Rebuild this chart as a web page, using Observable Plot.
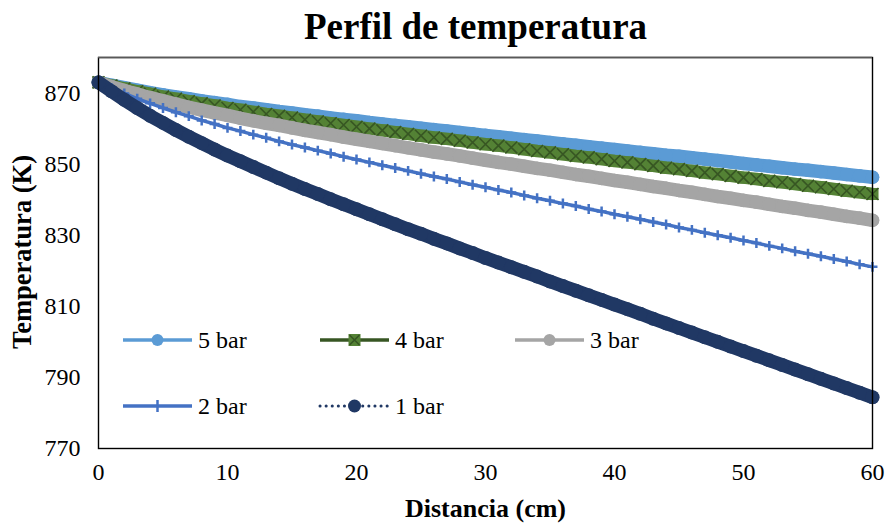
<!DOCTYPE html>
<html><head><meta charset="utf-8">
<script src="https://cdn.jsdelivr.net/npm/d3@7"></script>
<script src="https://cdn.jsdelivr.net/npm/@observablehq/plot@0.6"></script>
<style>
body{margin:0;background:#fff;}
#chart{width:888px;height:524px;}
#chart svg, #chart svg text{font-family:'Times New Roman','Liberation Serif',serif !important;}
</style></head><body><div id="chart"></div>
<script>
const title = "Perfil de temperatura";
const xTitle = "Distancia (cm)";
const yTitle = "Temperatura (K)";
const xTicks = [0,10,20,30,40,50,60];
const yTicks = [770,790,810,830,850,870];
const seriesNames = ["5 bar","4 bar","3 bar","2 bar","1 bar"];
const distancia = [0,1,2,3,4,5,6,7,8,9,10,11,12,13,14,15,16,17,18,19,20,21,22,23,24,25,26,27,28,29,30,31,32,33,34,35,36,37,38,39,40,41,42,43,44,45,46,47,48,49,50,51,52,53,54,55,56,57,58,59,60];
const t5bar = [873.0,872.2,871.5,870.8,870.1,869.5,868.9,868.4,867.8,867.3,866.8,866.2,865.8,865.3,864.8,864.4,863.9,863.5,863.0,862.6,862.2,861.7,861.3,860.9,860.5,860.1,859.7,859.3,858.9,858.5,858.1,857.7,857.3,856.9,856.5,856.1,855.7,855.3,854.9,854.5,854.1,853.7,853.3,852.9,852.5,852.2,851.8,851.4,851.0,850.6,850.2,849.8,849.4,849.0,848.6,848.3,847.9,847.5,847.1,846.7,846.3];
const t4bar = [873.0,872.1,871.3,870.5,869.8,869.0,868.4,867.7,867.1,866.5,865.8,865.3,864.7,864.1,863.6,863.1,862.5,862.0,861.5,861.0,860.5,860.0,859.5,859.0,858.5,858.0,857.5,857.1,856.6,856.1,855.6,855.2,854.7,854.2,853.7,853.3,852.8,852.3,851.9,851.4,850.9,850.5,850.0,849.5,849.0,848.6,848.1,847.6,847.2,846.7,846.2,845.8,845.3,844.9,844.4,843.9,843.5,843.0,842.5,842.1,841.6];
const t3bar = [873.0,871.8,870.7,869.7,868.7,867.8,866.9,866.0,865.2,864.4,863.7,862.9,862.2,861.5,860.9,860.2,859.5,858.9,858.3,857.6,857.0,856.4,855.8,855.2,854.6,854.0,853.4,852.9,852.3,851.7,851.1,850.5,850.0,849.4,848.8,848.3,847.7,847.1,846.6,846.0,845.4,844.9,844.3,843.7,843.2,842.6,842.1,841.5,840.9,840.4,839.8,839.3,838.7,838.1,837.6,837.0,836.5,835.9,835.3,834.8,834.2];
const t2bar = [873.0,871.4,869.9,868.4,867.1,865.8,864.6,863.5,862.3,861.3,860.2,859.3,858.3,857.4,856.4,855.5,854.7,853.8,853.0,852.1,851.3,850.5,849.7,848.9,848.1,847.3,846.5,845.8,845.0,844.2,843.5,842.7,842.0,841.2,840.4,839.7,838.9,838.2,837.4,836.7,835.9,835.2,834.5,833.7,833.0,832.2,831.5,830.7,830.0,829.3,828.5,827.8,827.0,826.3,825.5,824.8,824.1,823.3,822.6,821.8,821.1];
const t1bar = [873.0,870.5,868.1,865.8,863.6,861.6,859.6,857.7,855.9,854.1,852.4,850.8,849.2,847.6,846.0,844.5,843.0,841.6,840.1,838.7,837.3,835.9,834.5,833.1,831.7,830.4,829.0,827.7,826.3,825.0,823.6,822.3,821.0,819.7,818.4,817.0,815.7,814.4,813.1,811.8,810.5,809.2,807.9,806.5,805.2,803.9,802.6,801.3,800.0,798.7,797.4,796.1,794.8,793.5,792.2,790.9,789.6,788.3,787.0,785.7,784.4];

const C5 = "#5B9BD5", C4 = "#548235", C4d = "#375623", C3 = "#A5A5A5", C2 = "#4472C4", C1 = "#203864";
const serif = "'Times New Roman','Liberation Serif',serif";

const mk = (arr, s) => distancia.map((x, i) => ({x, t: arr[i], s}));
const d5 = mk(t5bar, seriesNames[0]);
const d4 = mk(t4bar, seriesNames[1]);
const d3s = mk(t3bar, seriesNames[2]);
const d2 = mk(t2bar, seriesNames[3]);
const d1 = mk(t1bar, seriesNames[4]);

const chart = Plot.plot({
  width: 888, height: 524,
  marginLeft: 98, marginRight: 16, marginTop: 57, marginBottom: 76,
  style: {fontFamily: serif, fontSize: "24px", color: "#000", background: "#fff"},
  x: {domain: [0, 60]},
  y: {domain: [770, 880]},
  marks: [
    Plot.axisX({ticks: xTicks, tickSize: 0, tickPadding: 14, label: null, fontSize: 24, fontFamily: serif}),
    Plot.axisY({ticks: yTicks, tickSize: 0, tickPadding: 18, label: null, fontSize: 24, fontFamily: serif}),
    // 5 bar
    Plot.line(d5, {x: "x", y: "t", stroke: C5, strokeWidth: 13.5, strokeLinecap: "round"}),
    Plot.dot(d5, {x: "x", y: "t", r: 6.8, fill: C5}),
    // 4 bar
    Plot.line(d4, {x: "x", y: "t", stroke: C4, strokeWidth: 12.5, strokeLinecap: "butt"}),
    Plot.dot(d4, {x: "x", y: "t", symbol: "square", r: 6.8, fill: C4}),
    Plot.dot(d4, {x: "x", y: "t", symbol: "times", r: 5.5, stroke: C4d, strokeWidth: 1.6}),
    // 3 bar
    Plot.line(d3s, {x: "x", y: "t", stroke: C3, strokeWidth: 13.5, strokeLinecap: "round"}),
    Plot.dot(d3s, {x: "x", y: "t", r: 6.8, fill: C3}),
    // 2 bar
    Plot.line(d2, {x: "x", y: "t", stroke: C2, strokeWidth: 3.5}),
    Plot.dot(d2, {x: "x", y: "t", symbol: "plus", r: 3.3, stroke: C2, strokeWidth: 2.5}),
    // 1 bar
    Plot.line(d1, {x: "x", y: "t", stroke: C1, strokeWidth: 13.5, strokeLinecap: "round"}),
    Plot.dot(d1, {x: "x", y: "t", r: 7, fill: C1}),
    Plot.frame({stroke: "#000", strokeWidth: 1.4}),
    Plot.ruleY([880], {stroke: "#595959", strokeWidth: 1.6}),
    Plot.text([title], {frameAnchor: "top", textAnchor: "middle", lineAnchor: "middle", dx: -10, dy: -30, fontSize: 37, fontWeight: "bold", fontFamily: serif, fill: "#000"}),
    Plot.text([xTitle], {frameAnchor: "bottom", textAnchor: "middle", lineAnchor: "middle", dx: 0, dy: 60, fontSize: 26, fontWeight: "bold", fontFamily: serif, fill: "#000"}),
    Plot.text([yTitle], {frameAnchor: "left", textAnchor: "middle", lineAnchor: "middle", dx: -76, dy: -1, rotate: -90, fontSize: 26.5, fontWeight: "bold", fontFamily: serif, fill: "#000"})
  ]
});
document.getElementById("chart").appendChild(chart);

// Legend (inside plot area)
const legendItems = [
  {name: seriesNames[0], col: 0, row: 0},
  {name: seriesNames[1], col: 1, row: 0},
  {name: seriesNames[2], col: 2, row: 0},
  {name: seriesNames[3], col: 0, row: 1},
  {name: seriesNames[4], col: 1, row: 1}
];
const colX = [123, 320, 515], rowY = [340, 406], sampleW = 69;
const svg = d3.select(chart.tagName.toLowerCase() === "svg" ? chart : chart.querySelector("svg"));
const lg = svg.append("g").attr("text-anchor", "start");
legendItems.forEach(it => {
  const x0 = colX[it.col], y0 = rowY[it.row], xm = x0 + sampleW / 2;
  const g = lg.append("g");
  const n = it.name;
  if (n === "5 bar") {
    g.append("line").attr("x1", x0).attr("x2", x0 + sampleW).attr("y1", y0).attr("y2", y0).attr("stroke", C5).attr("stroke-width", 3.5);
    g.append("circle").attr("cx", xm).attr("cy", y0).attr("r", 6).attr("fill", C5);
  } else if (n === "4 bar") {
    g.append("line").attr("x1", x0).attr("x2", x0 + sampleW).attr("y1", y0).attr("y2", y0).attr("stroke", C4d).attr("stroke-width", 3.5);
    g.append("rect").attr("x", xm - 6).attr("y", y0 - 6).attr("width", 12).attr("height", 12).attr("fill", C4);
    g.append("path").attr("d", `M${xm-5},${y0-5}L${xm+5},${y0+5}M${xm-5},${y0+5}L${xm+5},${y0-5}`).attr("stroke", C4d).attr("stroke-width", 1.6);
  } else if (n === "3 bar") {
    g.append("line").attr("x1", x0).attr("x2", x0 + sampleW).attr("y1", y0).attr("y2", y0).attr("stroke", C3).attr("stroke-width", 3.5);
    g.append("circle").attr("cx", xm).attr("cy", y0).attr("r", 6).attr("fill", C3);
  } else if (n === "2 bar") {
    g.append("line").attr("x1", x0).attr("x2", x0 + sampleW).attr("y1", y0).attr("y2", y0).attr("stroke", C2).attr("stroke-width", 3.5);
    g.append("line").attr("x1", xm).attr("x2", xm).attr("y1", y0 - 6).attr("y2", y0 + 6).attr("stroke", C2).attr("stroke-width", 2.5);
  } else {
    g.append("line").attr("x1", x0).attr("x2", x0 + sampleW).attr("y1", y0).attr("y2", y0).attr("stroke", C1).attr("stroke-width", 3).attr("stroke-dasharray", "0.1,6").attr("stroke-linecap", "round");
    g.append("circle").attr("cx", xm).attr("cy", y0).attr("r", 6.5).attr("fill", C1);
  }
  g.append("text").attr("x", x0 + sampleW + 6).attr("y", y0).attr("dy", "0.35em").attr("text-anchor", "start")
    .attr("font-family", serif).attr("font-size", 24).attr("fill", "#000").text(n);
});
</script>
</body></html>
